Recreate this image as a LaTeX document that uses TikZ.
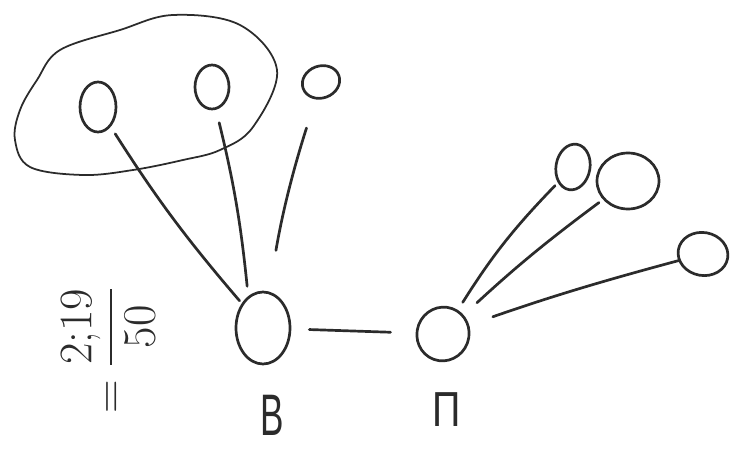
\documentclass[tikz,border=0pt]{standalone}
\usepackage{amsmath}
\usepackage{fontspec}
\setmainfont{Liberation Sans}
\usepackage{tikz}
\usetikzlibrary{shapes.geometric}
\definecolor{pencil}{HTML}{2B2B2B}
\tikzset{
  vtx/.style={ellipse, draw=pencil, line width=2.3pt, inner sep=0pt},
  wire/.style={draw=pencil, line width=2.3pt, line cap=round},
}

\begin{document}
\begin{tikzpicture}[x=0.03cm,y=-0.03cm]
    \useasboundingbox (0,0) rectangle (747,450);
    \draw[pencil,line width=1.5pt] plot[smooth cycle,tension=0.6] coordinates {(60,50) (120,30) (173,15) (240,25) (277,70) (253,127) (220,150) (183,160) (133,170) (83,175) (30,167) (15,140) (20,110) (37,80)};
    \node[vtx,minimum width=1.08cm,minimum height=1.5cm] (c1) at (98,107) {};
    \node[vtx,minimum width=1.02cm,minimum height=1.32cm] (c2) at (212,87) {};
    \node[vtx,minimum width=1.14cm,minimum height=0.96cm,rotate=20] (c3) at (321,82) {};
    \node[vtx,minimum width=1.62cm,minimum height=2.16cm] (B) at (263,328) {};
    \node[vtx,minimum width=1.56cm,minimum height=1.62cm,rotate=-20] (M) at (443,334) {};
    \node[vtx,minimum width=1.02cm,minimum height=1.38cm,rotate=-10] (r1) at (573,167) {};
    \node[vtx,minimum width=1.86cm,minimum height=1.68cm] (r2) at (628,181) {};
    \node[vtx,minimum width=1.5cm,minimum height=1.29cm,rotate=-10] (r3) at (703,254) {};
    \draw[wire,shorten <=0.25cm,shorten >=0.1cm] (c1) to[bend right=4] (B);
    \draw[wire,shorten <=0.4cm,shorten >=0.3cm] (c2.-80) to[bend left=4] (B.115);
    \draw[wire,shorten <=0.9cm,shorten >=1.25cm] (c3) to[bend right=4] (B);
    \draw[wire,shorten <=0.54cm,shorten >=0.75cm] (B) -- (M);
    \draw[wire,shorten <=0.27cm,shorten >=0.12cm] (M) to[bend left=6] (r1);
    \draw[wire,shorten <=0.54cm,shorten >=0.15cm] (M) to[bend left=3] (r2);
    \draw[wire,shorten <=0.75cm,shorten >=0cm] (M) to[bend left=2] (r3);
    \node[pencil,font=\fontsize{50}{50}\selectfont,xscale=0.6] (lb) at (272,415) {B};
    \node[pencil,font=\fontsize{42}{42}\selectfont,xscale=0.8] (lm) at (447,410) {П};
    \node[pencil,font=\Huge,scale=1.6,rotate=90] (ratio) at (108,350) {$\displaystyle=\frac{2{;}19}{50}$};
\end{tikzpicture}
\end{document}
